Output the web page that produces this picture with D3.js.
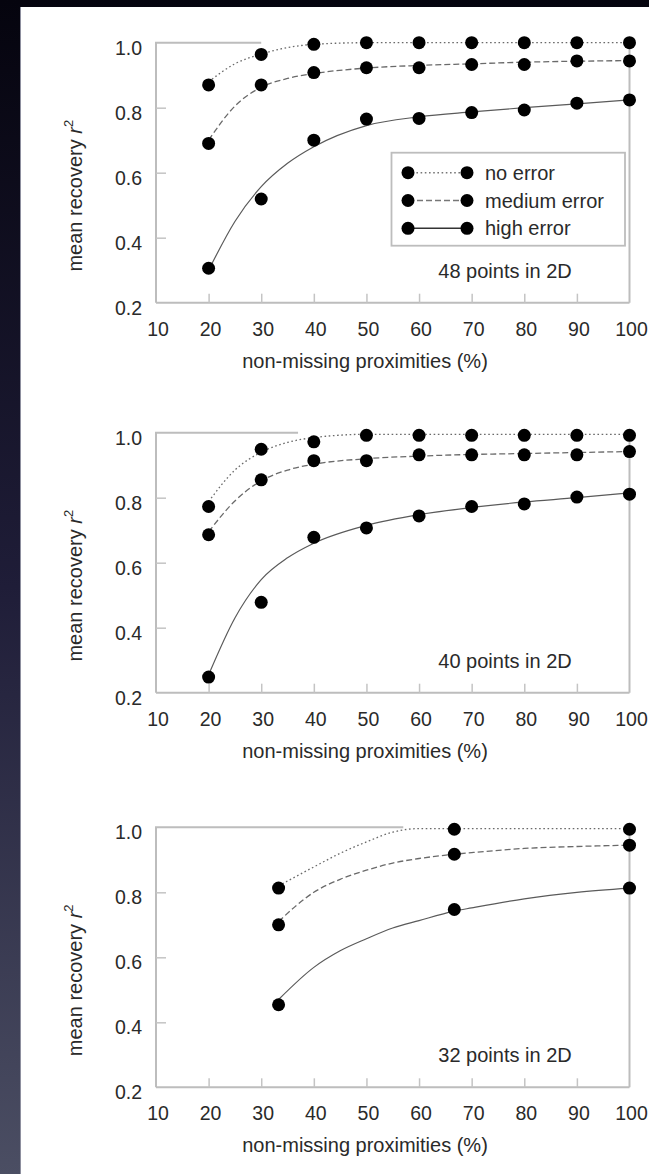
<!DOCTYPE html>
<html>
<head>
<meta charset="utf-8">
<script src="https://cdn.jsdelivr.net/npm/d3@7/dist/d3.min.js"></script>
<style>
  html, body { margin: 0; padding: 0; background: #fff; }
  svg { display: block; }
  text { font-family: "Liberation Sans", Arial, Helvetica, sans-serif; fill: #2a2a2a; }
</style>
</head>
<body>
<svg id="chart" width="649" height="1174"></svg>
<script>
// ---------- data ----------
const xTicks = [10, 20, 30, 40, 50, 60, 70, 80, 90, 100];
const yTicks = [0.2, 0.4, 0.6, 0.8, 1.0];
const seriesNames = ["no error", "medium error", "high error"];
const panelLabels = ["48 points in 2D", "40 points in 2D", "32 points in 2D"];
const xTitle = "non-missing proximities (%)";
// where the grey top rule of each frame stops (in % units)
const topRuleEnd = [30, 37, 57];

// panel 1 : 48 points
const p1X        = [20, 30, 40, 50, 60, 70, 80, 90, 100];
const p1NoError  = [0.870, 0.964, 0.995, 1.0, 1.0, 1.0, 1.0, 1.0, 1.0];
const p1Medium   = [0.690, 0.870, 0.908, 0.923, 0.923, 0.933, 0.933, 0.944, 0.944];
const p1High     = [0.306, 0.519, 0.700, 0.765, 0.767, 0.785, 0.793, 0.814, 0.824];
const p1FitX       = [20, 25, 30, 35, 40, 50, 60, 70, 80, 90, 100];
const p1FitNoError = [0.880, 0.935, 0.965, 0.985, 0.995, 1.0, 1.0, 1.0, 1.0, 1.0, 1.0];
const p1FitMedium  = [0.700, 0.805, 0.863, 0.890, 0.905, 0.922, 0.930, 0.935, 0.940, 0.943, 0.945];
const p1FitHigh    = [0.300, 0.450, 0.557, 0.629, 0.680, 0.745, 0.772, 0.787, 0.800, 0.812, 0.824];

// panel 2 : 40 points
const p2X        = [20, 30, 40, 50, 60, 70, 80, 90, 100];
const p2NoError  = [0.773, 0.949, 0.972, 0.992, 0.992, 0.992, 0.992, 0.992, 0.992];
const p2Medium   = [0.686, 0.855, 0.914, 0.914, 0.932, 0.932, 0.932, 0.932, 0.942];
const p2High     = [0.248, 0.478, 0.678, 0.707, 0.744, 0.773, 0.781, 0.802, 0.811];
const p2FitX       = [20, 25, 30, 35, 40, 50, 60, 70, 80, 90, 100];
const p2FitNoError = [0.788, 0.885, 0.940, 0.970, 0.985, 0.995, 0.995, 0.995, 0.995, 0.995, 0.995];
const p2FitMedium  = [0.695, 0.790, 0.852, 0.885, 0.903, 0.920, 0.928, 0.933, 0.936, 0.939, 0.942];
const p2FitHigh    = [0.255, 0.430, 0.548, 0.615, 0.660, 0.715, 0.748, 0.770, 0.787, 0.800, 0.815];

// panel 3 : 32 points
const p3X        = [33.3, 66.7, 100];
const p3NoError  = [0.813, 0.994, 0.994];
const p3Medium   = [0.700, 0.917, 0.945];
const p3High     = [0.454, 0.747, 0.813];
const p3FitX       = [33.3, 40, 45, 50, 55, 60, 66.7, 70, 80, 90, 100];
const p3FitNoError = [0.820, 0.878, 0.920, 0.955, 0.985, 0.996, 0.996, 0.996, 0.996, 0.996, 0.996];
const p3FitMedium  = [0.710, 0.800, 0.840, 0.868, 0.890, 0.904, 0.917, 0.922, 0.935, 0.941, 0.945];
const p3FitHigh    = [0.470, 0.569, 0.620, 0.657, 0.690, 0.713, 0.742, 0.752, 0.780, 0.800, 0.813];

const panels = [
  { x: p1X, ys: [p1NoError, p1Medium, p1High], fx: p1FitX, fits: [p1FitNoError, p1FitMedium, p1FitHigh] },
  { x: p2X, ys: [p2NoError, p2Medium, p2High], fx: p2FitX, fits: [p2FitNoError, p2FitMedium, p2FitHigh] },
  { x: p3X, ys: [p3NoError, p3Medium, p3High], fx: p3FitX, fits: [p3FitNoError, p3FitMedium, p3FitHigh] }
];

// ---------- layout ----------
const W = 649, H = 1174;
const plotLeft = 156, plotRight = 629.5, plotH = 260;
const panelTops = [42.7, 432.7, 827.3];
const lineStyles = [
  { dash: "1.6,2.6", color: "#6a6a6a", width: 1.3 },
  { dash: "6,3",     color: "#6a6a6a", width: 1.3 },
  { dash: null,      color: "#5a5a5a", width: 1.2 }
];
const frameColor = "#bdbdbd";

const svg = d3.select("#chart");

// background
const defs = svg.append("defs");
const grad = defs.append("linearGradient").attr("id", "bg").attr("x1", 0).attr("y1", 0).attr("x2", 0).attr("y2", 1);
grad.append("stop").attr("offset", "0%").attr("stop-color", "#05040e");
grad.append("stop").attr("offset", "50%").attr("stop-color", "#1f1d38");
grad.append("stop").attr("offset", "100%").attr("stop-color", "#4b4e63");
svg.append("rect").attr("width", W).attr("height", H).attr("fill", "url(#bg)");
svg.append("rect").attr("x", 21).attr("y", 7).attr("width", W - 21).attr("height", H - 7).attr("fill", "#fff");
svg.append("line").attr("x1", 20.5).attr("x2", 20.5).attr("y1", 7).attr("y2", H)
  .attr("stroke", "#8d8f9e").attr("stroke-width", 1);

const x = d3.scaleLinear().domain([10, 100]).range([plotLeft, plotRight]);

panels.forEach((p, i) => {
  const top = panelTops[i];
  const bottom = top + plotH;
  const y = d3.scaleLinear().domain([0.2, 1.0]).range([bottom, top]);
  const g = svg.append("g");

  // frame
  g.append("line").attr("x1", x(10)).attr("x2", x(10)).attr("y1", y(1.0)).attr("y2", y(0.2))
    .attr("stroke", frameColor).attr("stroke-width", 2);
  g.append("line").attr("x1", x(10)).attr("x2", x(100)).attr("y1", y(0.2)).attr("y2", y(0.2))
    .attr("stroke", frameColor).attr("stroke-width", 2);
  g.append("line").attr("x1", x(100)).attr("x2", x(100)).attr("y1", y(1.0)).attr("y2", y(0.2))
    .attr("stroke", frameColor).attr("stroke-width", 2);
  g.append("line").attr("x1", x(10) - 1).attr("x2", x(topRuleEnd[i])).attr("y1", y(1.0)).attr("y2", y(1.0))
    .attr("stroke", frameColor).attr("stroke-width", 2);

  // axes (ticks inward, labels placed separately)
  const yAxis = d3.axisLeft(y).tickValues(yTicks).tickSize(-10).tickFormat("");
  const ya = g.append("g").attr("transform", `translate(${x(10)},0)`).call(yAxis);
  ya.select(".domain").remove();
  ya.selectAll(".tick line").attr("stroke", "#c4c4c4").attr("stroke-width", 1.5);
  ya.selectAll(".tick").filter(d => d === 0.2 || d === 1.0).remove();

  const xAxis = d3.axisBottom(x).tickValues(xTicks).tickSize(-9).tickFormat("");
  const xa = g.append("g").attr("transform", `translate(0,${y(0.2)})`).call(xAxis);
  xa.select(".domain").remove();
  xa.selectAll(".tick line").attr("stroke", "#c4c4c4").attr("stroke-width", 1.5);
  xa.selectAll(".tick").filter(d => d === 10 || d === 100).remove();

  // tick labels
  g.selectAll(".ylab").data(yTicks).enter().append("text")
    .attr("x", plotLeft - 14).attr("y", d => y(d) + 5).attr("dy", "0.35em")
    .attr("text-anchor", "end").attr("font-size", 19.5)
    .text(d => d3.format(".1f")(d));
  g.selectAll(".xlab").data(xTicks).enter().append("text")
    .attr("x", d => x(d) + 2).attr("y", bottom + 26).attr("dy", "0.35em")
    .attr("text-anchor", "middle").attr("font-size", 19.5)
    .text(d => d);

  // axis titles
  g.append("text").attr("x", 365).attr("y", bottom + 58).attr("dy", "0.35em")
    .attr("text-anchor", "middle").attr("font-size", 20).text(xTitle);
  const yt = g.append("text")
    .attr("transform", `translate(75,${(top + bottom) / 2 + 23}) rotate(-90)`)
    .attr("dy", "0.35em").attr("text-anchor", "middle").attr("font-size", 20);
  yt.append("tspan").text("mean recovery ");
  yt.append("tspan").attr("font-style", "italic").text("r");
  yt.append("tspan").attr("font-size", 13).attr("dy", "-0.7em").text("2");

  // fitted curves
  const line = d3.line().curve(d3.curveMonotoneX).x(d => x(d[0])).y(d => y(d[1]));
  p.fits.forEach((fit, s) => {
    const pts = p.fx.map((xv, k) => [xv, fit[k]]);
    const st = lineStyles[s];
    g.append("path").attr("d", line(pts)).attr("fill", "none")
      .attr("stroke", st.color).attr("stroke-width", st.width)
      .attr("stroke-dasharray", st.dash);
  });

  // points
  p.ys.forEach((vals) => {
    g.selectAll(null).data(p.x.map((xv, k) => [xv, vals[k]])).enter().append("circle")
      .attr("cx", d => x(d[0])).attr("cy", d => y(d[1])).attr("r", 6.5).attr("fill", "#000");
  });

  // panel label
  g.append("text").attr("x", 505).attr("y", top + 228).attr("dy", "0.35em")
    .attr("text-anchor", "middle").attr("font-size", 20).text(panelLabels[i]);

  // legend (first panel only)
  if (i === 0) {
    const lg = g.append("g");
    lg.append("rect").attr("x", 391.5).attr("y", top + 110).attr("width", 233.5).attr("height", 93)
      .attr("fill", "#fff").attr("stroke", frameColor).attr("stroke-width", 1.8);
    seriesNames.forEach((name, s) => {
      const ly = top + 130 + s * 27.8;
      const st = lineStyles[s];
      lg.append("line").attr("x1", 408).attr("x2", 467).attr("y1", ly).attr("y2", ly)
        .attr("stroke", s === 2 ? "#333" : "#777").attr("stroke-width", s === 2 ? 1.6 : 1.5)
        .attr("stroke-dasharray", st.dash);
      lg.append("circle").attr("cx", 408).attr("cy", ly).attr("r", 6.5).attr("fill", "#000");
      lg.append("circle").attr("cx", 467).attr("cy", ly).attr("r", 6.5).attr("fill", "#000");
      lg.append("text").attr("x", 485).attr("y", ly).attr("dy", "0.35em")
        .attr("font-size", 20).text(name);
    });
  }
});
</script>
</body>
</html>
